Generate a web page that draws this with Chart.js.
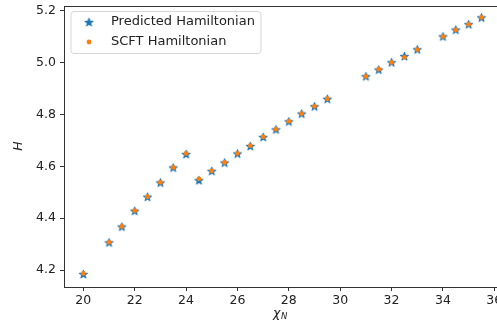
<!DOCTYPE html>
<html>
<head>
<meta charset="utf-8">
<script src="https://cdn.jsdelivr.net/npm/chart.js@4/dist/chart.umd.min.js"></script>
<style>
  html, body { margin: 0; padding: 0; background: #fff; overflow: hidden; }
  #wrap { position: relative; width: 540px; height: 333px; }
</style>
</head>
<body>
<div id="wrap"><canvas id="hamChart"></canvas></div>
<script>
// chi_N values and the two Hamiltonian series
const chiN = [20, 21, 21.5, 22, 22.5, 23, 23.5, 24, 24.5, 25, 25.5, 26, 26.5, 27, 27.5,
              28, 28.5, 29, 29.5, 31, 31.5, 32, 32.5, 33, 34, 34.5, 35, 35.5];
const predictedH = [4.183, 4.305, 4.366, 4.427, 4.481, 4.536, 4.594, 4.646, 4.545, 4.581, 4.613,
                    4.648, 4.677, 4.712, 4.741, 4.772, 4.802, 4.830, 4.859, 4.946, 4.972, 5.000,
                    5.024, 5.050, 5.100, 5.126, 5.147, 5.173];
const scftH = [4.187, 4.307, 4.368, 4.429, 4.483, 4.538, 4.596, 4.650, 4.552, 4.583, 4.615,
               4.650, 4.680, 4.714, 4.743, 4.774, 4.804, 4.832, 4.861, 4.947, 4.975, 5.001,
               5.021, 5.051, 5.101, 5.127, 5.148, 5.175];
const xTicksStep = 2;
const yTicksStep = 0.2;

const BLUE = '#1f77b4';
const ORANGE = '#ff7f0e';
const FONT = '"DejaVu Sans", sans-serif';

// filled five-point star, used as point image
function makeStar(r, color) {
  const size = Math.ceil(r * 2 + 4);
  const c = document.createElement('canvas');
  c.width = size; c.height = size;
  const g = c.getContext('2d');
  g.translate(size / 2, size / 2);
  g.beginPath();
  for (let i = 0; i < 10; i++) {
    const rad = i % 2 === 0 ? r : r * 0.381966;
    const a = -Math.PI / 2 + i * Math.PI / 5;
    const px = rad * Math.cos(a), py = rad * Math.sin(a);
    if (i === 0) g.moveTo(px, py); else g.lineTo(px, py);
  }
  g.closePath();
  g.fillStyle = color;
  g.strokeStyle = color;
  g.lineWidth = 1.2;
  g.lineJoin = 'round';
  g.fill();
  g.stroke();
  return c;
}
const starImg = makeStar(4.1, BLUE);

function toPoints(xs, ys) {
  return xs.map((x, i) => ({ x: x, y: ys[i] }));
}

// legend box, top frame line and axis titles
const decorations = {
  id: 'decorations',
  afterDraw(chart) {
    const ctx = chart.ctx;
    const area = chart.chartArea;
    ctx.save();

    ctx.strokeStyle = '#333';
    ctx.lineWidth = 1;
    ctx.beginPath();
    ctx.moveTo(area.left, area.top + 0.5);
    ctx.lineTo(area.right, area.top + 0.5);
    ctx.stroke();

    // legend
    const lx = 71, ly = 11.5, lw = 190, lh = 42, rr = 3;
    ctx.beginPath();
    ctx.moveTo(lx + rr, ly);
    ctx.arcTo(lx + lw, ly, lx + lw, ly + lh, rr);
    ctx.arcTo(lx + lw, ly + lh, lx, ly + lh, rr);
    ctx.arcTo(lx, ly + lh, lx, ly, rr);
    ctx.arcTo(lx, ly, lx + lw, ly, rr);
    ctx.closePath();
    ctx.fillStyle = 'rgba(255,255,255,0.8)';
    ctx.fill();
    ctx.strokeStyle = '#d6d6d6';
    ctx.stroke();

    ctx.drawImage(starImg, 89 - starImg.width / 2, 22.5 - starImg.height / 2);
    ctx.beginPath();
    ctx.arc(89, 42, 2.4, 0, Math.PI * 2);
    ctx.fillStyle = ORANGE;
    ctx.fill();

    ctx.fillStyle = '#222';
    ctx.font = '13px ' + FONT;
    ctx.textBaseline = 'middle';
    ctx.textAlign = 'left';
    ctx.fillText('Predicted Hamiltonian', 111, 22);
    ctx.fillText('SCFT Hamiltonian', 111, 41.5);

    // y title
    ctx.save();
    ctx.translate(19, 146);
    ctx.rotate(-Math.PI / 2);
    ctx.font = 'italic 12.5px ' + FONT;
    ctx.textAlign = 'center';
    ctx.textBaseline = 'middle';
    ctx.fillText('H', 0, 0);
    ctx.restore();

    // x title: chi with subscript N
    ctx.font = 'italic 12.5px ' + FONT;
    ctx.textAlign = 'left';
    ctx.textBaseline = 'alphabetic';
    ctx.fillText('χ', 273, 317);
    ctx.font = 'italic 8.5px ' + FONT;
    ctx.fillText('N', 281, 319);

    ctx.restore();
  }
};

new Chart(document.getElementById('hamChart'), {
  type: 'scatter',
  data: {
    datasets: [
      {
        label: 'Predicted Hamiltonian',
        data: toPoints(chiN, predictedH),
        pointStyle: starImg,
        pointRadius: 5,
        backgroundColor: BLUE,
        borderColor: BLUE,
        order: 1
      },
      {
        label: 'SCFT Hamiltonian',
        data: toPoints(chiN, scftH),
        pointStyle: 'circle',
        pointRadius: 2.4,
        borderWidth: 0,
        backgroundColor: ORANGE,
        borderColor: ORANGE,
        order: 0
      }
    ]
  },
  options: {
    responsive: true,
    maintainAspectRatio: false,
    animation: false,
    events: [],
    layout: { padding: { top: 5, left: 0, right: 20, bottom: 0 } },
    plugins: {
      legend: { display: false },
      tooltip: { enabled: false }
    },
    scales: {
      x: {
        type: 'linear',
        min: 19.248,
        max: 37.0,
        border: { display: true, color: '#333', width: 1 },
        grid: { drawOnChartArea: false, drawTicks: true, tickLength: 4, tickColor: '#333' },
        ticks: {
          stepSize: xTicksStep,
          includeBounds: false,
          maxRotation: 0,
          padding: 2,
          color: '#222',
          font: { family: FONT, size: 12.5 },
          callback: v => String(v)
        },
        afterFit(scale) {
          scale.height = 46;
          scale.paddingLeft = 0;
          scale.paddingRight = 0;
        }
      },
      y: {
        type: 'linear',
        min: 4.1346,
        max: 5.219,
        border: { display: true, color: '#333', width: 1 },
        grid: { drawOnChartArea: false, drawTicks: true, tickLength: 4, tickColor: '#333' },
        ticks: {
          stepSize: yTicksStep,
          includeBounds: false,
          padding: 4,
          color: '#222',
          font: { family: FONT, size: 12.5 },
          callback: v => v.toFixed(1)
        },
        afterFit(scale) {
          scale.width = 64;
          scale.paddingTop = 0;
          scale.paddingBottom = 0;
        }
      }
    }
  },
  plugins: [decorations]
});
</script>
</body>
</html>
